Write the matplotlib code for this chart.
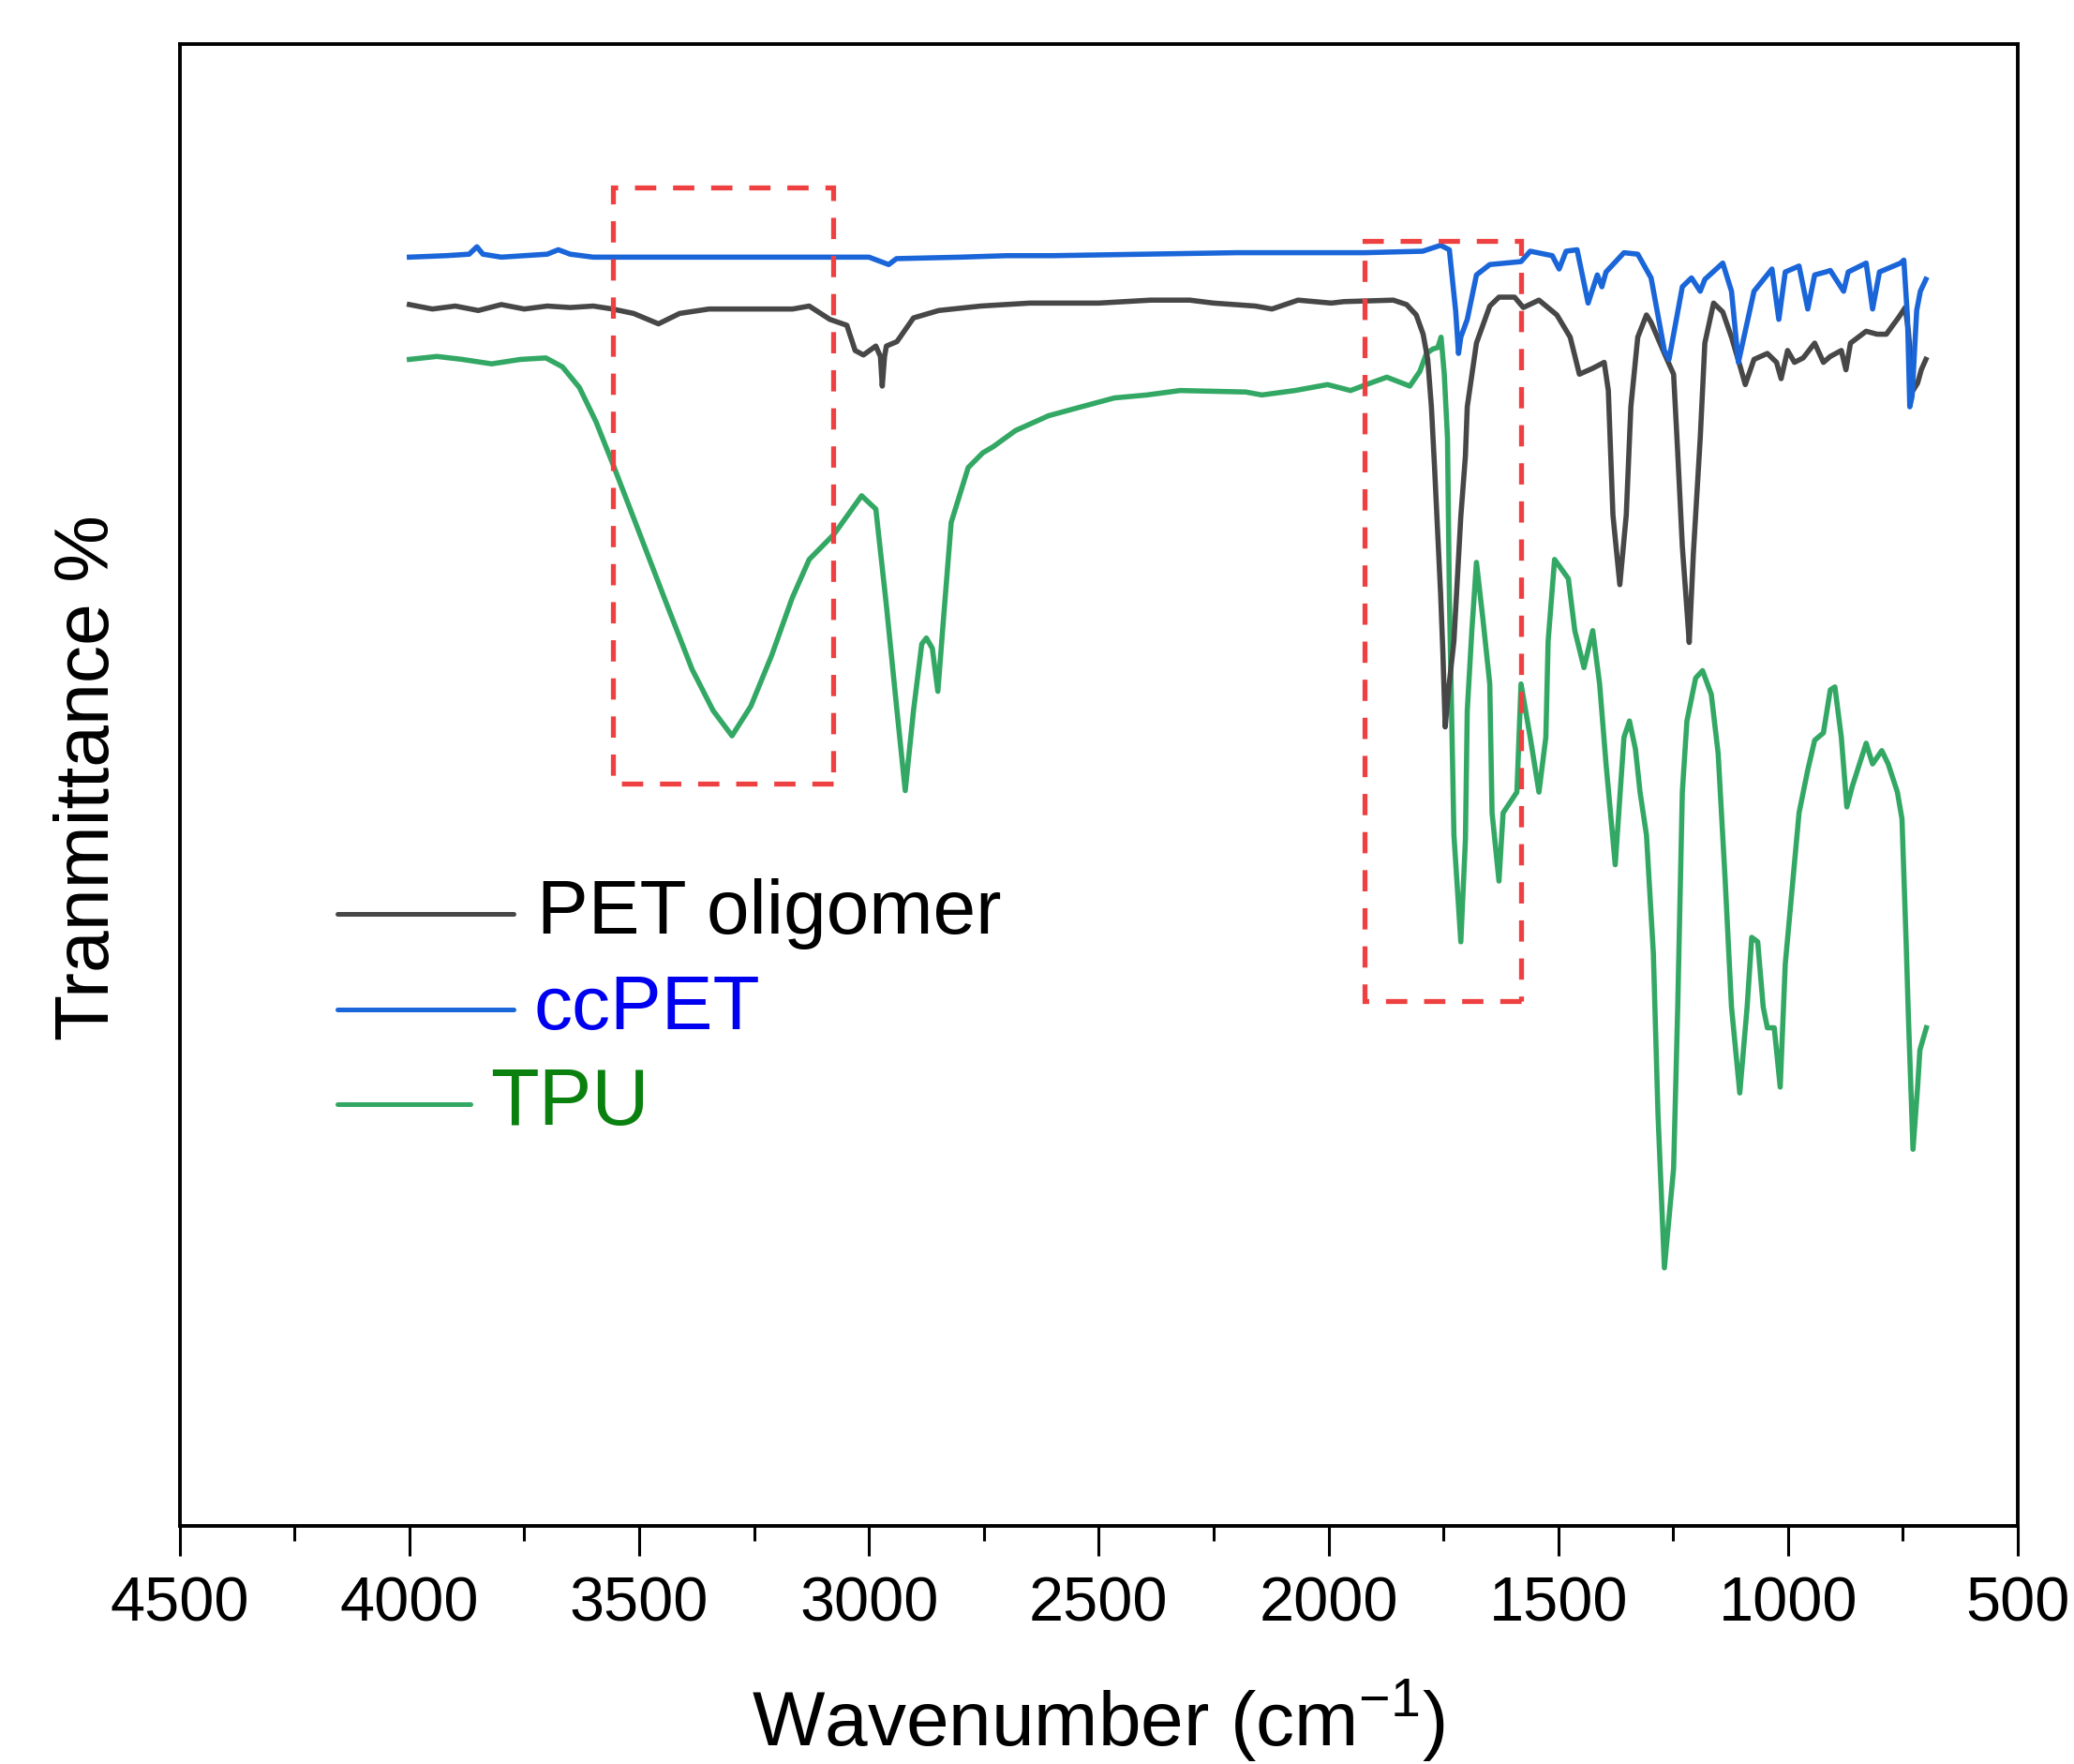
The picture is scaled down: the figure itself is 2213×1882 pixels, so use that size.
import matplotlib
matplotlib.use("Agg")
import matplotlib.pyplot as plt
from matplotlib.lines import Line2D
from matplotlib.patches import Rectangle
from matplotlib.ticker import MultipleLocator

plt.rcParams["font.family"] = ["Liberation Sans", "DejaVu Sans"]
plt.rcParams["mathtext.fontset"] = "custom"
plt.rcParams["mathtext.rm"] = "Liberation Sans"

# --- data (wavenumber cm-1, transmittance in arbitrary %) ---
pet_wn = [4000, 3950, 3900, 3850, 3800, 3750, 3700, 3650, 3600, 3558, 3512, 3458, 3412,
          3348, 3166, 3130, 3085, 3048, 3030, 3012, 2985, 2975, 2971, 2966, 2962, 2939,
          2903, 2848, 2757, 2650, 2500, 2387, 2302, 2250, 2159, 2123, 2066, 1994, 1966,
          1859, 1830, 1809, 1794, 1784, 1776, 1769, 1756, 1751, 1746, 1738, 1727, 1712,
          1702, 1698, 1678, 1649, 1629, 1595, 1576, 1542, 1503, 1474, 1454, 1425, 1400,
          1391, 1381, 1366, 1352, 1342, 1327, 1308, 1298, 1269, 1249, 1240, 1230, 1220,
          1215, 1206, 1191, 1181, 1162, 1142, 1123, 1103, 1093, 1074, 1045, 1025, 1015,
          1001, 986, 967, 942, 923, 908, 884, 874, 864, 830, 806, 786, 772, 760, 745,
          738, 728, 718, 710, 700]
pet_t = [82.4, 82.1, 82.3, 82.0, 82.4, 82.1, 82.3, 82.2, 82.3, 82.1, 81.8, 81.1, 81.8,
         82.1, 82.1, 82.3, 81.4, 81.0, 79.3, 79.0, 79.6, 78.9, 76.9, 78.9, 79.6, 79.9,
         81.5, 82.0, 82.3, 82.5, 82.5, 82.7, 82.7, 82.5, 82.3, 82.1, 82.7, 82.5, 82.6,
         82.7, 82.4, 81.7, 80.4, 78.7, 75.5, 71.3, 62.9, 58.9, 53.9, 56.6, 59.7, 68.1,
         72.2, 75.5, 79.8, 82.3, 82.9, 82.9, 82.2, 82.7, 81.7, 80.2, 77.7, 78.1, 78.5,
         76.6, 68.2, 63.5, 68.2, 75.5, 80.2, 81.7, 81.2, 79.1, 77.7, 72.4, 66.1, 61.8,
         59.6, 65.6, 73.4, 79.8, 82.5, 81.9, 80.2, 78.1, 77.0, 78.7, 79.1, 78.5, 77.4,
         79.3, 78.5, 78.8, 79.8, 78.5, 78.9, 79.3, 78.0, 79.8, 80.6, 80.4, 80.4, 81.0,
         81.5, 82.2, 80.6, 76.6, 77.1, 78.0, 78.7]

ccpet_wn = [4000, 3920, 3870, 3853, 3840, 3800, 3750, 3700, 3676, 3650, 3600, 3300,
            3000, 2957, 2940, 2800, 2700, 2600, 2400, 2200, 2040, 1922, 1795, 1756, 1737,
            1723, 1717, 1712, 1698, 1678, 1649, 1581, 1561, 1513, 1498, 1483, 1459, 1435,
            1415, 1405, 1396, 1357, 1327, 1298, 1269, 1259, 1230, 1210, 1191, 1181, 1142,
            1123, 1108, 1074, 1035, 1020, 1006, 976, 957, 942, 918, 908, 879, 869, 830,
            816, 801, 755, 748, 740, 735, 730, 720, 712, 700]
ccpet_t = [85.6, 85.7, 85.8, 86.3, 85.8, 85.6, 85.7, 85.8, 86.1, 85.8, 85.6, 85.6,
           85.6, 85.1, 85.5, 85.6, 85.7, 85.7, 85.8, 85.9, 85.9, 85.9, 86.0, 86.4, 86.1,
           81.9, 79.1, 80.2, 81.4, 84.4, 85.1, 85.3, 86.0, 85.7, 84.8, 86.0, 86.1, 82.5,
           84.4, 83.6, 84.6, 85.9, 85.8, 84.2, 79.3, 78.7, 83.6, 84.2, 83.3, 84.1, 85.2,
           83.3, 78.5, 83.3, 84.8, 81.4, 84.6, 85.0, 82.1, 84.4, 84.6, 84.7, 83.3, 84.6,
           85.2, 82.1, 84.6, 85.2, 85.4, 81.5, 75.5, 76.2, 82.0, 83.3, 84.1]

tpu_wn = [4000, 3940, 3885, 3821, 3758, 3703, 3667, 3630, 3594, 3558, 3512, 3439, 3385,
          3339, 3298, 3257, 3212, 3167, 3130, 3076, 3016, 2985, 2962, 2939, 2921, 2903,
          2885, 2875, 2862, 2850, 2839, 2821, 2784, 2752, 2730, 2681, 2609, 2538, 2466,
          2395, 2323, 2180, 2145, 2073, 2002, 1952, 1909, 1873, 1823, 1801, 1787, 1773,
          1762, 1755, 1748, 1741, 1737, 1727, 1712, 1702, 1698, 1688, 1678, 1664, 1649,
          1644, 1629, 1620, 1605, 1590, 1581, 1561, 1542, 1527, 1522, 1508, 1478, 1464,
          1444, 1425, 1410, 1396, 1376, 1357, 1345, 1332, 1322, 1308, 1293, 1283, 1269,
          1249, 1240, 1230, 1220, 1201, 1186, 1167, 1152, 1137, 1123, 1105, 1089, 1079,
          1066, 1054, 1045, 1030, 1017, 1006, 991, 976, 957, 942, 923, 908, 898, 884,
          872, 860, 830, 816, 796, 782, 762, 752, 743, 738, 728, 718, 713, 699]
tpu_t = [78.7, 78.9, 78.7, 78.4, 78.7, 78.8, 78.2, 76.8, 74.5, 71.7, 68.0, 62.1, 57.8,
         55.0, 53.3, 55.3, 58.7, 62.6, 65.2, 66.9, 69.5, 68.6, 62.1, 55.0, 49.6, 55.0,
         59.5, 59.9, 59.2, 56.3, 60.7, 67.7, 71.4, 72.4, 72.8, 73.9, 74.9, 75.5, 76.1,
         76.3, 76.6, 76.5, 76.3, 76.6, 77.0, 76.6, 77.1, 77.5, 76.9, 77.9, 79.1, 79.4,
         79.5, 80.2, 77.7, 73.4, 62.9, 46.6, 39.4, 46.3, 55.0, 60.4, 65.0, 61.2, 56.8,
         48.1, 43.5, 48.1, 48.8, 49.5, 56.8, 53.2, 49.5, 53.2, 59.7, 65.2, 63.9, 60.4,
         57.9, 60.4, 56.8, 51.4, 44.6, 53.2, 54.3, 52.4, 49.5, 46.6, 38.6, 27.8, 17.4,
         24.1, 35.0, 49.5, 54.3, 57.2, 57.7, 56.1, 52.1, 43.7, 35.0, 29.2, 35.0, 39.7,
         39.4, 35.0, 33.6, 33.6, 29.6, 37.9, 43.0, 48.1, 51.0, 53.0, 53.5, 56.4, 56.6, 53.2,
         48.5, 49.9, 52.8, 51.4, 52.3, 51.4, 49.5, 47.7, 39.4, 34.3, 25.4, 29.6, 32.1, 33.6]

series_names = ["PET oligomer", "ccPET", "TPU"]
# highlighted regions: (wn high, wn low, t low, t high)
box_regions = [(3558, 3078, 50.1, 90.3), (1922, 1581, 35.4, 86.7)]
x_ticks = [4500, 4000, 3500, 3000, 2500, 2000, 1500, 1000, 500]

line_colors = ["#474747", "#1A66D9", "#33A865"]
text_colors = ["black", "#0000F0", "#0A800F"]

fig = plt.figure(figsize=(22.13, 18.82), dpi=100)
ax = fig.add_axes([0.0866, 0.1351, 0.8863, 0.8401])

ax.plot(pet_wn, pet_t, color=line_colors[0], lw=4.0, zorder=3)
ax.plot(ccpet_wn, ccpet_t, color=line_colors[1], lw=4.0, zorder=4)
ax.plot(tpu_wn, tpu_t, color=line_colors[2], lw=4.0, zorder=2)

for hi, lo, t0, t1 in box_regions:
    ax.add_patch(Rectangle((lo, t0), hi - lo, t1 - t0, fill=False, edgecolor="#EE4040",
                           lw=3.8, linestyle=(0, (4.3, 3.4)), zorder=5))

ax.set_xlim(4500, 500)
ax.set_ylim(0, 100)
ax.set_xticks(x_ticks)
ax.set_xticklabels([str(v) for v in x_ticks])
ax.xaxis.set_minor_locator(MultipleLocator(250))
ax.set_yticks([])
ax.tick_params(axis="x", which="major", direction="out", length=23, width=2.2,
               labelsize=48, pad=16)
ax.tick_params(axis="x", which="minor", direction="out", length=11.5, width=2.2)
for sp in ax.spines.values():
    sp.set_linewidth(2.8)

ax.set_xlabel("Wavenumber (cm$^{\\mathregular{-1}}$)", fontsize=59)
ax.xaxis.set_label_coords(0.5, -0.1315)
ax.xaxis.label.set_verticalalignment("center")
ax.set_ylabel("Tranmittance %", fontsize=58)
ax.yaxis.set_label_coords(-0.0493, 0.505)
ax.yaxis.label.set_verticalalignment("center")

# hand-made legend
leg_y = [0.4128, 0.3485, 0.2846]
leg_x_end = [0.1818, 0.1818, 0.1581]
leg_text_x = [0.1946, 0.1929, 0.1688]
leg_size = [59, 59, 61]
for i, name in enumerate(series_names):
    ax.add_line(Line2D([0.0858, leg_x_end[i]], [leg_y[i], leg_y[i]], transform=ax.transAxes,
                       color=line_colors[i], lw=3.6, solid_capstyle="round"))
    ax.text(leg_text_x[i], leg_y[i], name, transform=ax.transAxes, fontsize=leg_size[i],
            color=text_colors[i], va="center", ha="left")

fig.savefig("out.png", dpi=100)
